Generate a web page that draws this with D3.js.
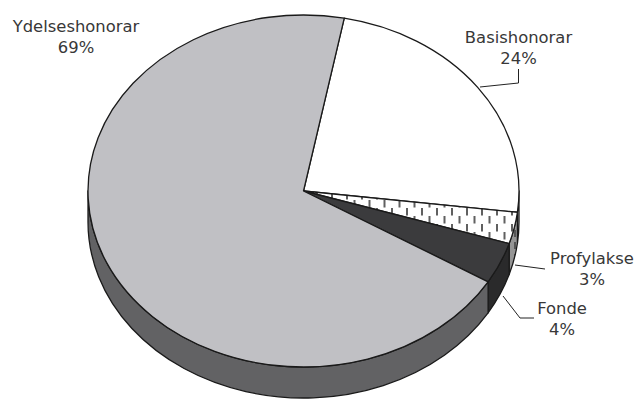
<!DOCTYPE html>
<html>
<head>
<meta charset="utf-8">
<script src="https://cdn.jsdelivr.net/npm/d3@7"></script>
<style>
  html, body { margin: 0; padding: 0; background: #fff; }
  svg { display: block; }
  text { font-family: "DejaVu Sans", Verdana, sans-serif; font-size: 16.4px; fill: #383838; }
</style>
</head>
<body>
<svg id="chart" width="638" height="401"></svg>
<script>
// ---- data ----
const categories = ["Basishonorar", "Profylakse", "Fonde", "Ydelseshonorar"];
const values = [23.9, 2.9, 3.8, 69.4];

// ---- styles / layout ----
const topColors = ["#ffffff", "url(#dashPat)", "#3b3b3d", "#c0c0c4"];
const sideColors = ["#e0e0e0", "url(#dashPatSide)", "#2a2a2b", "#626264"];
const cx = 303.5, cy = 191, rx = 215.5, ry = 176, depth = 31;
const startDeg = 10.9;

const labelLayout = {
  "Basishonorar":   { x: 518.5, y: 43,  leader: [[480, 87], [518.5, 83], [518.5, 69]] },
  "Profylakse":     { x: 592,   y: 264, leader: [[515, 265], [545, 269]] },
  "Fonde":          { x: 562,   y: 314, leader: [[503, 296], [520, 318], [534, 318]] },
  "Ydelseshonorar": { x: 76,    y: 32,  leader: null }
};

const svg = d3.select("#chart");
const defs = svg.append("defs");
const pat = defs.append("pattern").attr("id", "dashPat")
  .attr("patternUnits", "userSpaceOnUse").attr("width", 15).attr("height", 16);
pat.append("rect").attr("width", 15).attr("height", 16).attr("fill", "#fff");
pat.append("rect").attr("x", 1).attr("y", 0).attr("width", 2).attr("height", 7.5).attr("fill", "#606060");
pat.append("rect").attr("x", 8.5).attr("y", 8).attr("width", 2).attr("height", 7.5).attr("fill", "#606060");
const pat2 = defs.append("pattern").attr("id", "dashPatSide")
  .attr("patternUnits", "userSpaceOnUse").attr("width", 8).attr("height", 12);
pat2.append("rect").attr("width", 8).attr("height", 12).attr("fill", "#959595");
pat2.append("rect").attr("x", 2).attr("y", 2).attr("width", 2).attr("height", 7).attr("fill", "#555");

const pie = d3.pie().sort(null).value(d => d)
  .startAngle(startDeg * Math.PI / 180)
  .endAngle(startDeg * Math.PI / 180 + 2 * Math.PI);
const arcs = pie(values);

const pt = (a, dy = 0) => [cx + rx * Math.sin(a), cy - ry * Math.cos(a) + dy];

function topPath(a0, a1) {
  const p0 = pt(a0), p1 = pt(a1);
  const large = (a1 - a0) > Math.PI ? 1 : 0;
  return `M${cx},${cy}L${p0[0]},${p0[1]}A${rx},${ry} 0 ${large} 1 ${p1[0]},${p1[1]}Z`;
}

function sidePath(a0, a1) {
  const parts = [];
  for (const k of [0, 1]) {
    const lo = Math.PI / 2 + 2 * Math.PI * k, hi = 3 * Math.PI / 2 + 2 * Math.PI * k;
    const s = Math.max(a0, lo), e = Math.min(a1, hi);
    if (e > s) {
      const p0 = pt(s), p1 = pt(e), q1 = pt(e, depth), q0 = pt(s, depth);
      const large = (e - s) > Math.PI ? 1 : 0;
      parts.push(`M${p0[0]},${p0[1]}A${rx},${ry} 0 ${large} 1 ${p1[0]},${p1[1]}` +
        `L${q1[0]},${q1[1]}A${rx},${ry} 0 ${large} 0 ${q0[0]},${q0[1]}Z`);
    }
  }
  return parts.join("");
}

const g = svg.append("g");
g.selectAll("path.side").data(arcs).join("path")
  .attr("class", "side")
  .attr("d", d => sidePath(d.startAngle, d.endAngle))
  .attr("fill", (d, i) => sideColors[i])
  .attr("stroke", "#1a1a1a").attr("stroke-width", 1.3).attr("stroke-linejoin", "round");

g.selectAll("path.top").data(arcs).join("path")
  .attr("class", "top")
  .attr("d", d => topPath(d.startAngle, d.endAngle))
  .attr("fill", (d, i) => topColors[i])
  .attr("stroke", "#1a1a1a").attr("stroke-width", 1.3).attr("stroke-linejoin", "round");

const fmt = v => d3.format(".0f")(v) + "%";
const lab = svg.append("g");
arcs.forEach((d, i) => {
  const L = labelLayout[categories[i]];
  if (L.leader) {
    lab.append("path").attr("d", d3.line()(L.leader))
      .attr("fill", "none").attr("stroke", "#222").attr("stroke-width", 1);
  }
  const t = lab.append("text").attr("text-anchor", "middle");
  t.append("tspan").attr("x", L.x).attr("y", L.y).text(categories[i]);
  t.append("tspan").attr("x", L.x).attr("y", L.y + 20.5).text(fmt(d.value));
});
</script>
</body>
</html>
